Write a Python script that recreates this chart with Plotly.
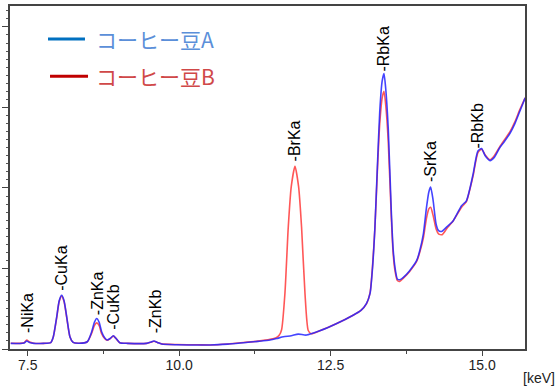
import plotly.graph_objects as go

# Spectrum A (コーヒー豆A) - energy [keV] and intensity (arbitrary units)
energy_a = [7.22, 7.37, 7.44, 7.484, 7.53, 7.60, 7.76, 7.88, 7.922, 7.979, 8.02, 8.061, 8.10, 8.144,
            8.198, 8.25, 8.35, 8.483, 8.556, 8.60, 8.639, 8.68, 8.72, 8.77, 8.81, 8.86, 8.913, 8.96,
            9.02, 9.15, 9.46, 9.53, 9.584, 9.64, 9.71, 9.96, 10.30, 10.51, 10.80, 11.06, 11.30,
            11.50, 11.61, 11.72, 11.85, 11.965, 12.10, 12.32, 12.60, 12.87, 13.00, 13.09, 13.15,
            13.19, 13.23, 13.27, 13.31, 13.35, 13.38, 13.41, 13.45, 13.50, 13.53, 13.56, 13.60,
            13.64, 13.70, 13.80, 13.92, 13.97, 14.03, 14.08, 14.12, 14.15, 14.19, 14.24, 14.28,
            14.33, 14.42, 14.52, 14.66, 14.74, 14.80, 14.85, 14.93, 14.99, 15.05, 15.13, 15.20,
            15.29, 15.37, 15.46, 15.54, 15.62, 15.71]
counts_a = [0.070, 0.068, 0.074, 0.099, 0.082, 0.070, 0.070, 0.080, 0.15, 0.40, 0.60, 0.667, 0.60,
            0.40, 0.15, 0.082, 0.072, 0.090, 0.214, 0.33, 0.379, 0.33, 0.214, 0.14, 0.112, 0.13, 0.164,
            0.13, 0.078, 0.070, 0.070, 0.085, 0.099, 0.082, 0.062, 0.053, 0.050, 0.049, 0.060, 0.078,
            0.095, 0.111, 0.130, 0.152, 0.165, 0.185, 0.173, 0.226, 0.317, 0.420, 0.48, 0.564, 0.69,
            1.00, 1.51, 2.25, 2.95, 3.33, 3.42, 3.22, 2.74, 1.72, 1.25, 1.02, 0.87, 0.86, 0.89, 0.97,
            1.10, 1.22, 1.43, 1.75, 1.95, 2.01, 1.85, 1.55, 1.47, 1.46, 1.52, 1.59, 1.78, 1.84, 2.00,
            2.17, 2.46, 2.49, 2.40, 2.34, 2.38, 2.50, 2.58, 2.68, 2.80, 2.95, 3.12]

# Spectrum B (コーヒー豆B)
energy_b = [7.22, 7.37, 7.44, 7.484, 7.53, 7.60, 7.76, 7.88, 7.922, 7.979, 8.02, 8.061, 8.10, 8.144,
            8.198, 8.25, 8.35, 8.483, 8.556, 8.60, 8.639, 8.68, 8.72, 8.77, 8.81, 8.86, 8.913, 8.96,
            9.02, 9.15, 9.46, 9.53, 9.584, 9.64, 9.71, 9.96, 10.30, 10.51, 10.80, 11.06, 11.30,
            11.50, 11.60, 11.65, 11.69, 11.745, 11.80, 11.85, 11.911, 11.97, 12.02, 12.076, 12.13,
            12.18, 12.32, 12.60, 12.87, 13.00, 13.09, 13.15, 13.19, 13.23, 13.27, 13.31, 13.35, 13.38,
            13.41, 13.45, 13.50, 13.53, 13.56, 13.60, 13.64, 13.70, 13.80, 13.92, 13.97, 14.03, 14.08,
            14.12, 14.15, 14.19, 14.24, 14.28, 14.34, 14.42, 14.52, 14.66, 14.74, 14.80, 14.85, 14.93,
            14.99, 15.05, 15.13, 15.20, 15.29, 15.37, 15.46, 15.54, 15.62, 15.71]
counts_b = [0.072, 0.070, 0.078, 0.110, 0.086, 0.072, 0.070, 0.080, 0.15, 0.39, 0.59, 0.655, 0.59,
            0.39, 0.15, 0.082, 0.072, 0.090, 0.195, 0.29, 0.325, 0.29, 0.19, 0.13, 0.108, 0.128, 0.160,
            0.128, 0.078, 0.070, 0.070, 0.085, 0.096, 0.082, 0.064, 0.055, 0.052, 0.050, 0.062, 0.080,
            0.098, 0.120, 0.140, 0.170, 0.24, 0.69, 1.51, 2.02, 2.27, 2.02, 1.51, 0.69, 0.23, 0.19,
            0.226, 0.317, 0.420, 0.48, 0.56, 0.70, 1.02, 1.50, 2.20, 2.80, 3.12, 3.20, 3.02, 2.58,
            1.65, 1.20, 0.98, 0.85, 0.84, 0.88, 0.96, 1.09, 1.20, 1.38, 1.62, 1.74, 1.76, 1.66, 1.49,
            1.43, 1.42, 1.50, 1.59, 1.76, 1.83, 1.99, 2.15, 2.44, 2.48, 2.41, 2.35, 2.40, 2.51, 2.60,
            2.70, 2.82, 2.97, 3.12]

# Peak labels
peak_names = ["-NiKa", "-CuKa", "-ZnKa", "-CuKb", "-ZnKb", "-BrKa", "-RbKa", "-SrKa", "-RbKb"]
peak_energy = [7.50, 8.06, 8.65, 8.91, 9.60, 11.91, 13.37, 14.15, 14.93]
peak_label_y = [0.17, 0.70, 0.40, 0.21, 0.17, 2.31, 3.42, 2.05, 2.47]

x_ticks = [7.5, 10.0, 12.5, 15.0]
x_tick_text = ["7.5", "10.0", "12.5", "15.0"]
series_names = ["コーヒー豆A", "コーヒー豆B"]

fig = go.Figure()
fig.add_trace(go.Scatter(x=energy_b, y=counts_b, mode="lines", name=series_names[1],
                         line=dict(color="rgba(255,45,45,0.8)", width=1.6, shape="spline", smoothing=0.6),
                         showlegend=False))
fig.add_trace(go.Scatter(x=energy_a, y=counts_a, mode="lines", name=series_names[0],
                         line=dict(color="rgba(35,35,255,0.85)", width=1.6, shape="spline", smoothing=0.6),
                         showlegend=False))

font_main = "Liberation Sans, Arial, sans-serif"

for name, ex, ey in zip(peak_names, peak_energy, peak_label_y):
    fig.add_annotation(x=ex, y=ey, text=name, textangle=-90, showarrow=False,
                       xanchor="center", yanchor="bottom",
                       font=dict(family=font_main, size=16, color="#000000"))

# Manual legend
legend_line_colors = ["#0070C0", "#C00000"]
legend_text_colors = ["#5B8FD9", "#D04848"]
legend_y = [0.904, 0.795]
legend_x0 = [0.0738, 0.0777]
legend_x1 = [0.1456, 0.1515]
for i in range(2):
    fig.add_shape(type="line", xref="paper", yref="paper",
                  x0=legend_x0[i], x1=legend_x1[i], y0=legend_y[i], y1=legend_y[i],
                  line=dict(color=legend_line_colors[i], width=3))
    fig.add_annotation(xref="paper", yref="paper", x=0.163, y=legend_y[i], text=series_names[i],
                       showarrow=False, xanchor="left", yanchor="middle",
                       font=dict(family="Noto Sans CJK JP", size=21, color=legend_text_colors[i]))

fig.add_annotation(xref="paper", yref="paper", x=1.062, y=-0.086, text="[keV]", showarrow=False,
                   xanchor="right", yanchor="middle",
                   font=dict(family=font_main, size=14, color="#222222"))

fig.update_layout(
    width=558, height=389,
    margin=dict(l=10, r=33, t=4, b=40),
    paper_bgcolor="white", plot_bgcolor="white",
    showlegend=False,
    xaxis=dict(range=[7.208, 15.707], tickvals=x_ticks, ticktext=x_tick_text,
               showgrid=False, zeroline=False, showline=True, mirror=True,
               linecolor="#444444", linewidth=1.5, ticks="outside", ticklen=5, tickwidth=1.2,
               tickcolor="#444444", ticklabelstandoff=-3,
               minor=dict(dtick=1.25, tick0=7.5, ticks="outside", ticklen=3, tickcolor="#444444",
                          showgrid=False),
               tickfont=dict(family=font_main, size=14, color="#222222")),
    yaxis=dict(range=[0, 4.26], dtick=1, tick0=0, showticklabels=False,
               showgrid=False, zeroline=False, showline=True, mirror=True,
               linecolor="#444444", linewidth=1.5, ticks="outside", ticklen=6, tickwidth=1.2,
               tickcolor="#444444",
               minor=dict(dtick=0.1, ticks="outside", ticklen=2, tickcolor="#555555",
                          showgrid=False)),
)

fig.write_html("out.html", config={"displayModeBar": False},
               post_script="document.body.style.margin='0px';document.body.style.overflow='hidden';")
